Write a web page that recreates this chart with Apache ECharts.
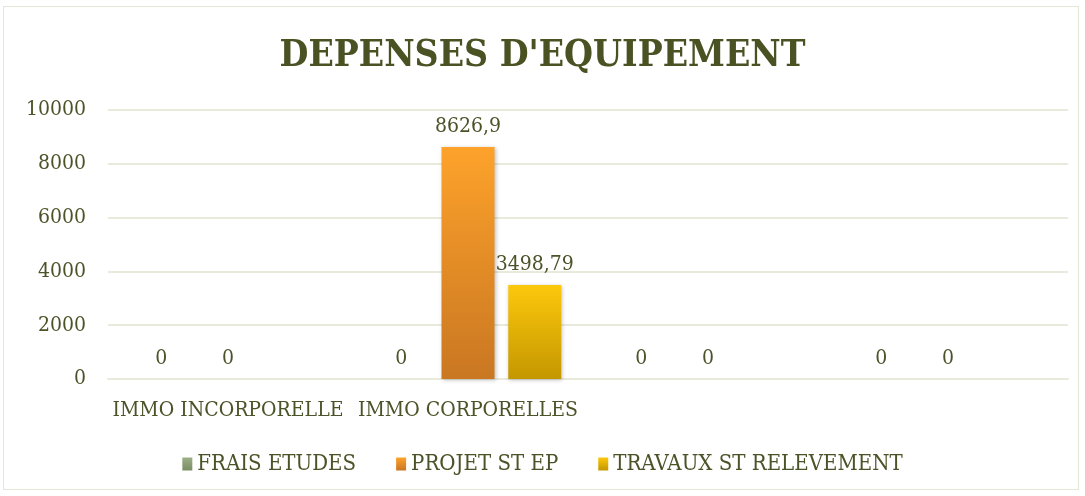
<!DOCTYPE html>
<html>
<head>
<meta charset="utf-8">
<title>DEPENSES D'EQUIPEMENT</title>
<script src="https://cdn.jsdelivr.net/npm/echarts@6/dist/echarts.min.js"></script>
<style>
    html, body { margin: 0; padding: 0; background: #fff; }
    #frame { position: absolute; left: 3px; top: 6px; width: 1076px; height: 484px; border: 1px solid #e4e6d6; box-sizing: border-box; }
    #chart { width: 1085px; height: 496px; }
</style>
</head>
<body>
<div id="frame"></div>
<div id="chart"></div>
<script>
    var categories = ['IMMO INCORPORELLE', 'IMMO CORPORELLES', '', ''];
    var fraisEtudes = [0, 0, 0, 0];
    var projetStEp = [0, 8626.9, 0, 0];
    var travauxStRelevement = [null, 3498.79, null, null];
    var yTicks = [0, 2000, 4000, 6000, 8000, 10000];

    var textColor = '#4b5328';
    var serif = '"DejaVu Serif Condensed", "Liberation Serif", serif';

    function grad(top, bottom) {
        return new echarts.graphic.LinearGradient(0, 0, 0, 1, [
            { offset: 0, color: top },
            { offset: 1, color: bottom }
        ]);
    }

    // excel style numbers: comma decimal, no thousands separator
    function fmt(v) {
        return String(v).replace('.', ',');
    }

    var labelStyle = {
        show: true,
        position: 'top',
        distance: 10,
        color: textColor,
        fontFamily: serif,
        fontSize: 21,
        formatter: function(p) {
            return fmt(p.value);
        }
    };

    var chart = echarts.init(document.getElementById('chart'));
    var option = {
        animation: false,
        title: {
            text: "DEPENSES D'EQUIPEMENT",
            left: 'center',
            top: 33,
            textStyle: {
                color: '#4a5223',
                fontFamily: serif,
                fontWeight: 'bold',
                fontSize: 37
            }
        },
        legend: {
            bottom: 16,
            left: 'center',
            itemWidth: 10,
            itemHeight: 13,
            itemGap: 40,
            icon: 'rect',
            textStyle: {
                color: textColor,
                fontFamily: serif,
                fontSize: 22,
                padding: [0, 0, 0, 0]
            },
            data: ['FRAIS ETUDES', 'PROJET ST EP', 'TRAVAUX ST RELEVEMENT']
        },
        grid: {
            left: 108,
            right: 17,
            top: 110,
            bottom: 117
        },
        xAxis: {
            type: 'category',
            data: categories,
            axisLine: { show: true, lineStyle: { color: '#e8eadc', width: 2 } },
            axisTick: { show: false },
            axisLabel: {
                interval: 0,
                margin: 21,
                color: textColor,
                fontFamily: serif,
                fontSize: 21
            }
        },
        yAxis: {
            type: 'value',
            min: yTicks[0],
            max: yTicks[yTicks.length - 1],
            interval: 2000,
            axisLine: { show: false },
            axisTick: { show: false },
            splitLine: { lineStyle: { color: '#e8eadc', width: 2 } },
            axisLabel: {
                margin: 22,
                color: textColor,
                fontFamily: serif,
                fontSize: 21,
                formatter: fmt
            }
        },
        series: [{
            name: 'FRAIS ETUDES',
            type: 'bar',
            data: fraisEtudes,
            barWidth: 53,
            barGap: '26%',
            itemStyle: { color: grad('#9cae86', '#7a8e64') },
            label: labelStyle
        }, {
            name: 'PROJET ST EP',
            type: 'bar',
            data: projetStEp,
            barWidth: 53,
            barGap: '26%',
            itemStyle: {
                color: grad('#fda22b', '#c97722'),
                shadowColor: 'rgba(0,0,0,0.25)',
                shadowBlur: 4,
                shadowOffsetX: 1,
                shadowOffsetY: 1
            },
            label: labelStyle
        }, {
            name: 'TRAVAUX ST RELEVEMENT',
            type: 'bar',
            data: travauxStRelevement,
            barWidth: 53,
            barGap: '26%',
            itemStyle: {
                color: grad('#fdc80c', '#c49700'),
                shadowColor: 'rgba(0,0,0,0.25)',
                shadowBlur: 4,
                shadowOffsetX: 1,
                shadowOffsetY: 1
            },
            label: labelStyle
        }]
    };
    chart.setOption(option);
</script>
</body>
</html>
